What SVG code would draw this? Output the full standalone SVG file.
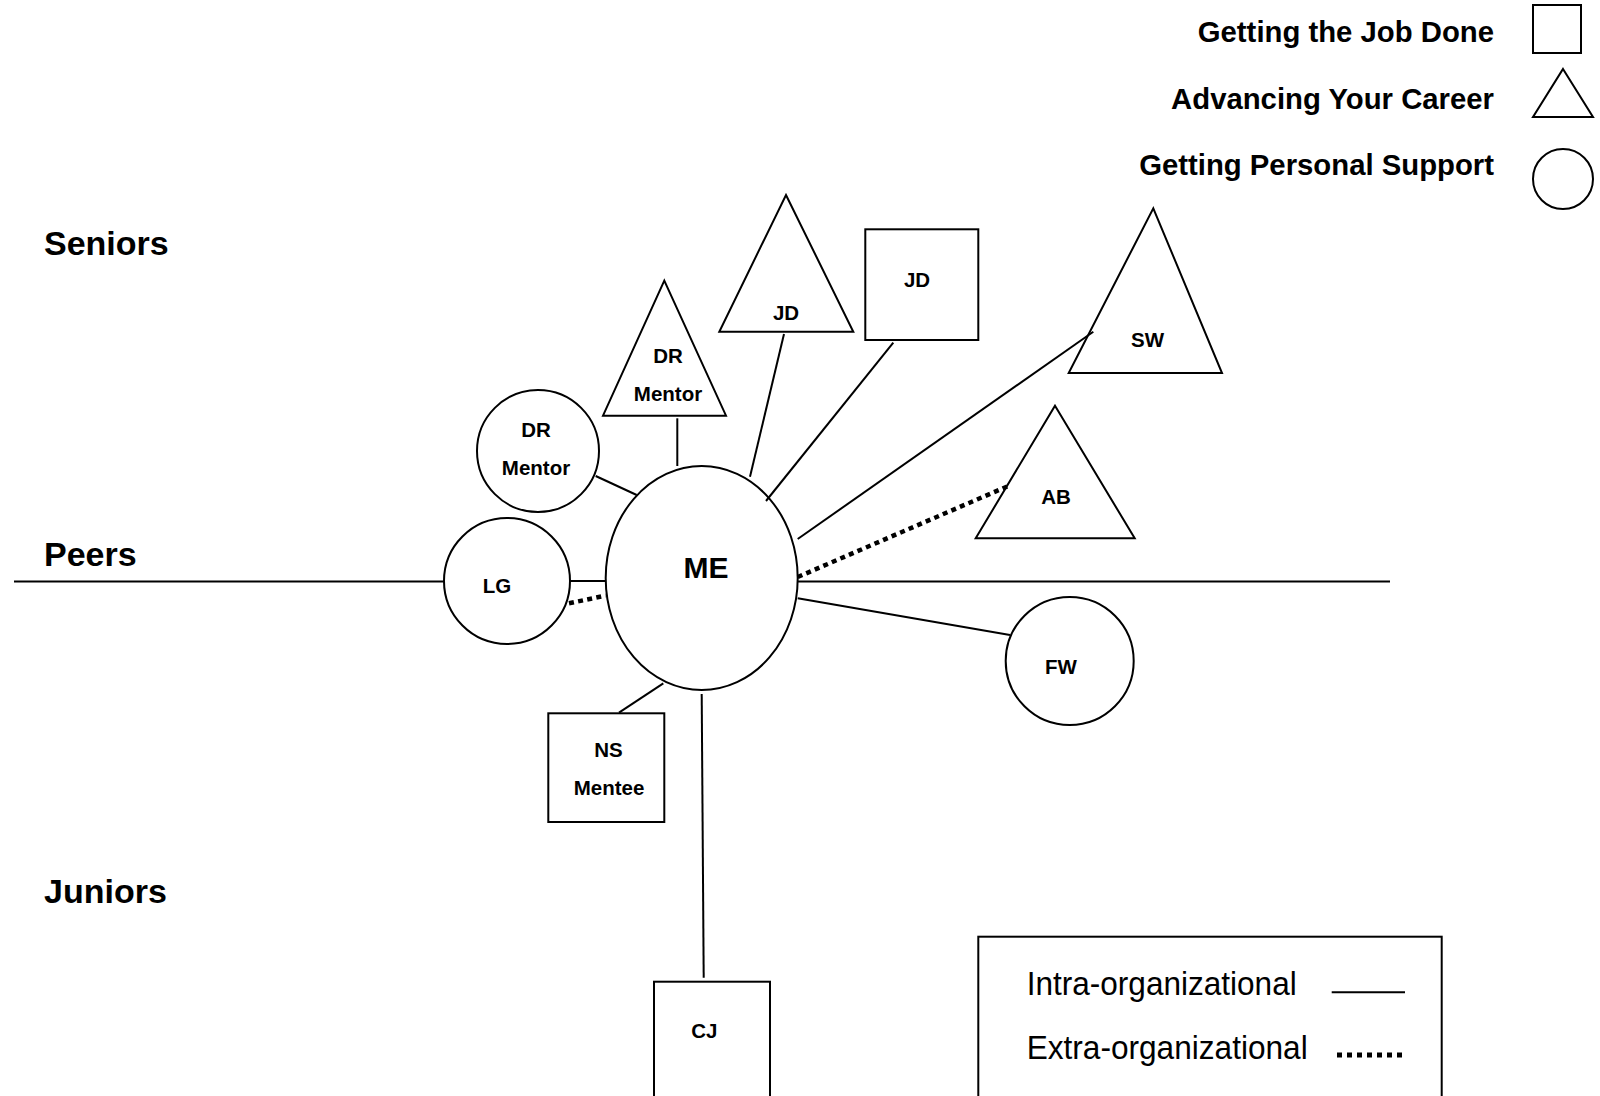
<svg xmlns="http://www.w3.org/2000/svg" width="1600" height="1096" viewBox="0 0 1600 1096">
<defs>
<style>
.shape{fill:#fff;stroke:#000;stroke-width:2}
.solid{stroke:#000;stroke-width:2;fill:none}
.dot{stroke:#000;stroke-width:4.5;stroke-dasharray:5 4.3;fill:none}
.lbl{font-family:"Liberation Sans",Arial,sans-serif;font-weight:bold;font-size:20.5px;text-anchor:middle;fill:#000}
.big{font-family:"Liberation Sans",Arial,sans-serif;font-weight:bold;font-size:34px;fill:#000}
.key{font-family:"Liberation Sans",Arial,sans-serif;font-weight:bold;font-size:29.3px;text-anchor:end;fill:#000}
.leg{font-family:"Liberation Sans",Arial,sans-serif;font-size:34px;fill:#000}
</style>
</defs>
<rect width="1600" height="1096" fill="#fff"/>

<g id="key">
<text class="key" x="1494" y="42">Getting the Job Done</text>
<text class="key" x="1494" y="109">Advancing Your Career</text>
<text class="key" x="1494" y="175">Getting Personal Support</text>
<rect class="shape" x="1533" y="5" width="48" height="48"/>
<polygon class="shape" points="1563,69 1593,117 1533,117"/>
<circle class="shape" cx="1563" cy="179" r="30"/>
</g>

<g id="levels">
<text class="big" x="44" y="255">Seniors</text>
<text class="big" x="44" y="566">Peers</text>
<text class="big" x="44" y="903">Juniors</text>
<line class="solid" x1="14" y1="581.5" x2="444" y2="581.5"/>
<line class="solid" x1="797.7" y1="581.5" x2="1390" y2="581.5"/>
</g>

<g id="node-me"><ellipse class="shape" cx="701.7" cy="578" rx="96" ry="112"/><text class="lbl" x="706" y="578" style="font-size:30px">ME</text></g>
<g id="node-lg"><circle class="shape" cx="507" cy="581" r="63"/><text class="lbl" x="497" y="593">LG</text></g>
<g id="node-dr-circle"><circle class="shape" cx="538" cy="451" r="61"/><text class="lbl" x="536" y="437">DR</text><text class="lbl" x="536" y="475">Mentor</text></g>
<g id="node-dr-triangle"><polygon class="shape" points="664.3,280.7 726,415.7 603,415.7"/><text class="lbl" x="668" y="363">DR</text><text class="lbl" x="668" y="401">Mentor</text></g>
<g id="node-jd-triangle"><polygon class="shape" points="786,195 853.3,331.7 719.3,331.7"/><text class="lbl" x="786" y="320">JD</text></g>
<g id="node-jd-square"><rect class="shape" x="865.3" y="229.3" width="113" height="110.7"/><text class="lbl" x="917" y="287">JD</text></g>
<g id="node-sw"><polygon class="shape" points="1153.3,208.3 1222,373 1068.7,373"/><text class="lbl" x="1147.5" y="347">SW</text></g>
<g id="node-ab"><polygon class="shape" points="1055,405.7 1134.7,538.3 975.7,538.3"/><text class="lbl" x="1056" y="503.5">AB</text></g>
<g id="node-fw"><circle class="shape" cx="1069.7" cy="661" r="64"/><text class="lbl" x="1061" y="673.5">FW</text></g>
<g id="node-ns"><rect class="shape" x="548.3" y="713.3" width="116" height="108.7"/><text class="lbl" x="608.5" y="757">NS</text><text class="lbl" x="609" y="795">Mentee</text></g>
<g id="node-cj"><rect class="shape" x="654" y="981.7" width="116" height="130"/><text class="lbl" x="704.3" y="1038">CJ</text></g>

<g id="connectors">
<line class="solid" x1="570" y1="581" x2="605.7" y2="581"/>
<line class="dot" x1="569" y1="603.3" x2="605.7" y2="595.6"/>
<line class="solid" x1="595.7" y1="476" x2="636.7" y2="495"/>
<line class="solid" x1="677.3" y1="418.3" x2="677.3" y2="466"/>
<line class="solid" x1="784" y1="334" x2="750" y2="476.7"/>
<line class="solid" x1="893.3" y1="342.7" x2="766" y2="501"/>
<line class="solid" x1="1093.3" y1="331.7" x2="797.7" y2="539"/>
<line class="dot" x1="797.7" y1="577" x2="1008.3" y2="486"/>
<line class="solid" x1="797.7" y1="598.3" x2="1010" y2="635"/>
<line class="solid" x1="663.3" y1="683.3" x2="619" y2="712.7"/>
<line class="solid" x1="701.7" y1="694" x2="703.7" y2="977.7"/>
</g>

<g id="line-legend">
<rect class="shape" x="978.3" y="936.7" width="463.4" height="180"/>
<text class="leg" x="1026.7" y="995" textLength="270" lengthAdjust="spacingAndGlyphs">Intra-organizational</text>
<text class="leg" x="1026.7" y="1059.3" textLength="281" lengthAdjust="spacingAndGlyphs">Extra-organizational</text>
<line class="solid" x1="1331.7" y1="992.3" x2="1405" y2="992.3"/>
<line x1="1337" y1="1055" x2="1407" y2="1055" stroke="#000" stroke-width="5" stroke-dasharray="5 5"/>
</g>
</svg>
